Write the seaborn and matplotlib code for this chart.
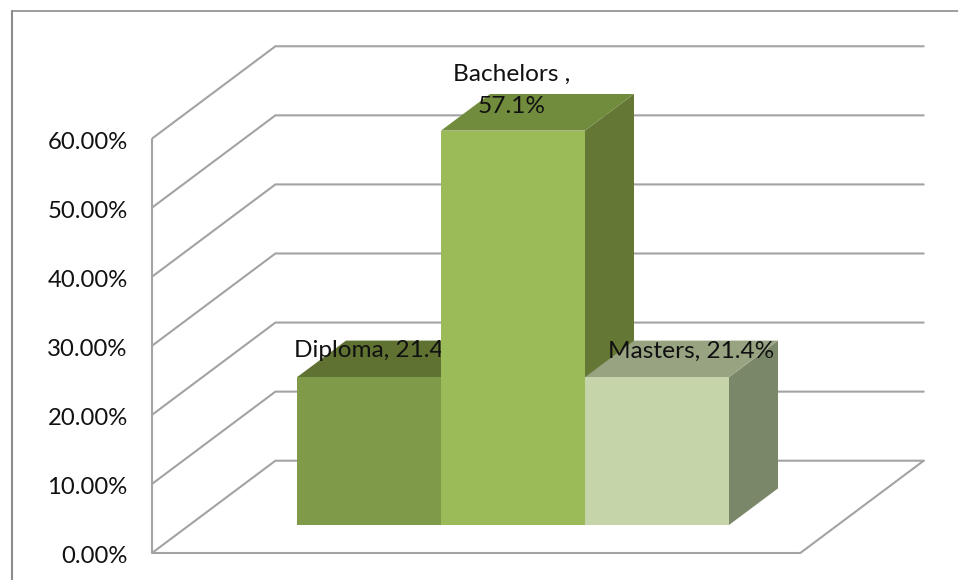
import matplotlib
matplotlib.use("Agg")
import matplotlib.pyplot as plt
from matplotlib.lines import Line2D
import pandas as pd
import seaborn as sns

categories = ["Diploma", "Bachelors", "Masters"]
shares = [21.4, 57.1, 21.4]
label_texts = ["Diploma, 21.4%", "Bachelors ,\n57.1%", "Masters, 21.4%"]
y_ticks = [0, 10, 20, 30, 40, 50, 60]
y_tick_labels = ["0.00%", "10.00%", "20.00%", "30.00%", "40.00%", "50.00%", "60.00%"]
front_colors = ["#7f9a48", "#9bbb59", "#c5d5a9"]
top_colors = ["#5f7232", "#728c3e", "#98a382"]
side_colors = ["#5f7232", "#647735", "#7a8769"]

W, H = 958, 580
PX_X = 144.0          # pixels per category
PX_Y = 6.907          # pixels per percent
X0 = 369.0            # pixel of first category centre
Y0 = 525.0            # pixel of bar base

sns.set_theme(style="white")
plt.rcParams["font.family"] = ["Lato", "DejaVu Sans"]

fig = plt.figure(figsize=(W / 100, H / 100), dpi=100, facecolor="white")
ax = fig.add_axes([152 / W, 0, (W - 152) / W, 1])
df = pd.DataFrame({"cat": categories, "share": shares})
sns.barplot(data=df, x="cat", y="share", hue="cat", order=categories, hue_order=categories,
            palette=front_colors, saturation=1, width=1.0, dodge=False, legend=False,
            linewidth=0, ax=ax)

xl = (152 - X0) / PX_X
xr = (W - X0) / PX_X
ax.set_xlim(xl, xr)
ax.set_ylim((Y0 - H) / PX_Y, Y0 / PX_Y)
ax.patch.set_alpha(0)
sns.despine(ax=ax, left=True, bottom=True)
ax.set_xlabel("")
ax.set_ylabel("")
ax.set_xticks([])

# chart depth in data units
base = (Y0 - 553) / PX_Y
wall_dx, wall_dy = 123.4 / PX_X, 92.3 / PX_Y
bar_dx, bar_dy = 49 / PX_X, 36.6 / PX_Y
front_right = (800.3 - X0) / PX_X
grid = "#a3a3a3"
glw = 1.5

# labels sit about 1.5 px under their gridline starts, as in the reference
ax.set_yticks([t + base - 0.22 for t in y_ticks], y_tick_labels, fontsize=17.2, color="#111111")
ax.tick_params(axis="y", length=0, pad=17.5)

# walls
for t in y_ticks:
    ax.plot([xl, xl + wall_dx, front_right + wall_dx],
            [t + base, t + base + wall_dy, t + base + wall_dy],
            color=grid, lw=glw, zorder=1, solid_joinstyle="miter")
ax.plot([xl, xl], [base, y_ticks[-1] + base], color=grid, lw=glw, zorder=1, clip_on=False)
ax.plot([xl, front_right, front_right + wall_dx], [base, base, base + wall_dy],
        color=grid, lw=glw, zorder=1, solid_joinstyle="miter")

# 3D faces built from the bars
layer = {0: 2, 1: 4, 2: 6}
bars = sorted(ax.patches, key=lambda p: p.get_x())
for i, p in enumerate(bars):
    x0, w, v = p.get_x(), p.get_width(), p.get_height()
    z = layer[i]
    p.set_zorder(z + 0.2)
    x1 = x0 + w
    ax.fill([x1, x1 + bar_dx, x1 + bar_dx, x1], [0, bar_dy, v + bar_dy, v],
            color=side_colors[i], lw=0, zorder=z)
    ax.fill([x0, x1, x1 + bar_dx, x0 + bar_dx], [v, v, v + bar_dy, v + bar_dy],
            color=top_colors[i], lw=0, zorder=z + 0.1)

# data labels
ax.text(-0.52, shares[0] + 3.8, label_texts[0], ha="left", va="center", fontsize=17.6,
        color="#111111", zorder=3)
ax.text(0.993, shares[1] + 5.8, label_texts[1], ha="center", va="center", fontsize=17.6,
        color="#111111", zorder=5, linespacing=1.65)
ax.text(1.66, shares[2] + 3.8, label_texts[2], ha="left", va="center", fontsize=17.6,
        color="#111111", zorder=7)

# outer chart frame
fc = "#8c8c8c"
fig.add_artist(Line2D([12 / W, 12 / W], [0, 1 - 10.5 / H], color=fc, lw=1.5))
fig.add_artist(Line2D([12 / W, 1], [1 - 10.5 / H, 1 - 10.5 / H], color=fc, lw=1.2))

fig.savefig("out.png", dpi=100)
